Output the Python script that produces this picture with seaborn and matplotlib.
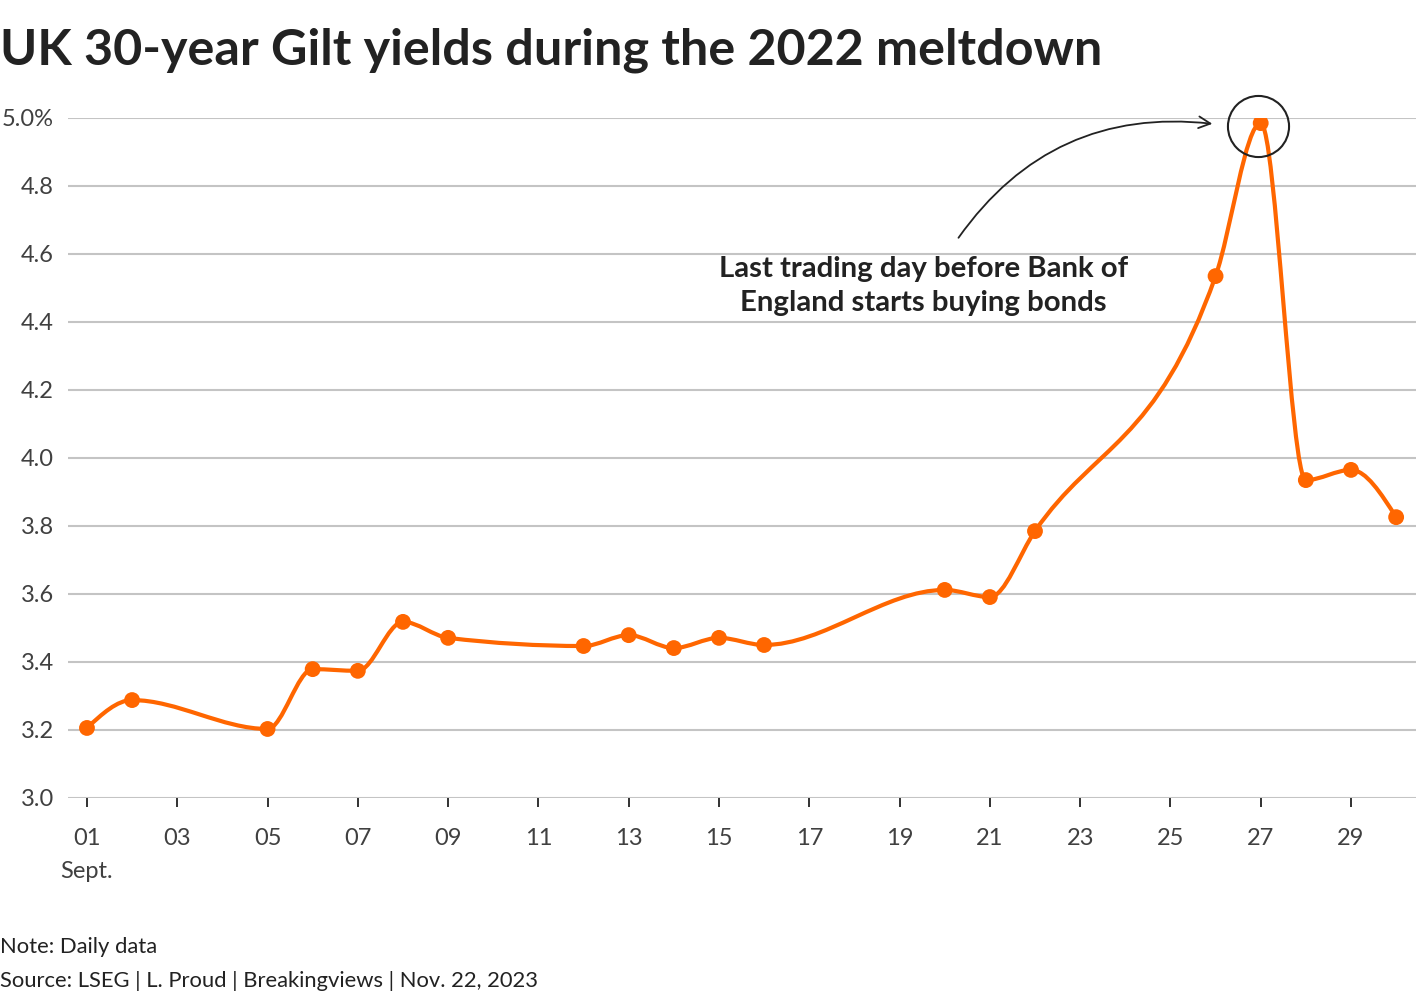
import numpy as np
import pandas as pd
import matplotlib
matplotlib.use("Agg")
import matplotlib.pyplot as plt
from matplotlib.path import Path
from matplotlib.patches import PathPatch
import seaborn as sns

# ---- data ----
days = [1, 2, 5, 6, 7, 8, 9, 12, 13, 14, 15, 16, 20, 21, 22, 26, 27, 28, 29, 30]
yields = [3.206, 3.288, 3.203, 3.379, 3.374, 3.518, 3.471, 3.447, 3.479, 3.441,
          3.471, 3.450, 3.612, 3.591, 3.785, 4.535, 4.985, 3.935, 3.965, 3.826]
tick_days = [1, 3, 5, 7, 9, 11, 13, 15, 17, 19, 21, 23, 25, 27, 29]
tick_labels = ["01", "03", "05", "07", "09", "11", "13", "15", "17", "19",
               "21", "23", "25", "27", "29"]
y_ticks = [3.0, 3.2, 3.4, 3.6, 3.8, 4.0, 4.2, 4.4, 4.6, 4.8, 5.0]
y_labels = ["3.0", "3.2", "3.4", "3.6", "3.8", "4.0", "4.2", "4.4", "4.6", "4.8", "5.0%"]
peak_day = 27
title = "UK 30-year Gilt yields during the 2022 meltdown"
annotation = "Last trading day before Bank of\nEngland starts buying bonds"
note = "Note: Daily data"
source = "Source: LSEG | L. Proud | Breakingviews | Nov. 22, 2023"

df = pd.DataFrame({"day": days, "yield": yields})

ORANGE = "#ff6600"
GRID = "#c4c4c4"
DARK = "#222222"
TXT = "#404040"

sns.set_theme(style="white")
plt.rcParams["font.family"] = ["Lato", "DejaVu Sans"]

fig = plt.figure(figsize=(14.2, 10), dpi=100)
ax = fig.add_axes([68 / 1420, 0.202, (1416 - 68) / 1420, 0.68])


def monotone_path(x, y):
    """Smooth monotone-cubic (d3 curveMonotoneX style) Bezier path through the data."""
    x = np.asarray(x, float)
    y = np.asarray(y, float)
    n = len(x)
    h = np.diff(x)
    s = np.diff(y) / h
    t = np.zeros(n)
    for i in range(1, n - 1):
        s0, s1 = s[i - 1], s[i]
        h0, h1 = h[i - 1], h[i]
        p = (s0 * h1 + s1 * h0) / (h0 + h1)
        t[i] = (np.sign(s0) + np.sign(s1)) * min(abs(s0), abs(s1), 0.5 * abs(p))
    t[0] = (3 * s[0] - t[1]) / 2
    t[-1] = (3 * s[-1] - t[-2]) / 2
    verts = [(x[0], y[0])]
    codes = [Path.MOVETO]
    for i in range(n - 1):
        dx = h[i] / 3
        verts += [(x[i] + dx, y[i] + dx * t[i]),
                  (x[i + 1] - dx, y[i + 1] - dx * t[i + 1]),
                  (x[i + 1], y[i + 1])]
        codes += [Path.CURVE4] * 3
    return Path(verts, codes)


# grid lines
for yt in y_ticks:
    ax.axhline(yt, color=GRID, lw=1.5, zorder=0)

# smooth line
ax.add_patch(PathPatch(monotone_path(df["day"], df["yield"]), facecolor="none",
                       edgecolor=ORANGE, lw=3.0, zorder=3, capstyle="round",
                       joinstyle="round"))
# points
sns.scatterplot(data=df, x="day", y="yield", ax=ax, color=ORANGE, s=130,
                edgecolor="none", zorder=4, legend=False)

ax.set_xlim(0.58, 30.44)
ax.set_ylim(3.0, 5.0)
for sp in ax.spines.values():
    sp.set_visible(False)

ax.set_xticks(tick_days)
ax.set_xticklabels(tick_labels)
ax.set_yticks(y_ticks)
ax.set_yticklabels(y_labels)
ax.tick_params(axis="x", length=6.5, width=1.3, color=DARK, pad=15,
               labelsize=17, labelcolor=TXT, bottom=True)
ax.tick_params(axis="y", length=0, pad=10, labelsize=17, labelcolor=TXT)
ax.set_xlabel("")
ax.set_ylabel("")

# "Sept." under first tick
ax.annotate("Sept.", xy=(tick_days[0], 3.0), xytext=(0, -73), textcoords="offset pixels",
            ha="center", va="center", fontsize=17, color=TXT,
            annotation_clip=False)

# circle around peak
peak_y = df.loc[df["day"] == peak_day, "yield"].iloc[0]
ax.plot([peak_day - 0.05], [peak_y - 0.01], marker="o", markersize=44, mfc="none",
        mec=DARK, mew=1.5, clip_on=False, zorder=5)

# annotation text + arrow
ax.text(19.53, 4.507, annotation, ha="center", va="center", fontsize=21.2,
        fontweight="bold", color=DARK, linespacing=1.38, zorder=6)
ax.annotate("", xy=(25.99, 4.982), xytext=(20.27, 4.641),
            arrowprops=dict(arrowstyle="->,head_length=0.7,head_width=0.35",
                            connectionstyle="arc3,rad=-0.3", color=DARK, lw=1.3),
            zorder=6)

# title & footer
fig.text(0.0, 0.950, title, ha="left", va="center", fontsize=36.2, fontweight="bold",
         color=DARK)
fig.text(0.0, 0.053, note, ha="left", va="center", fontsize=15.8, color=DARK)
fig.text(0.0, 0.019, source, ha="left", va="center", fontsize=15.8, color=DARK)

fig.savefig("out.png", dpi=100, facecolor="white")
